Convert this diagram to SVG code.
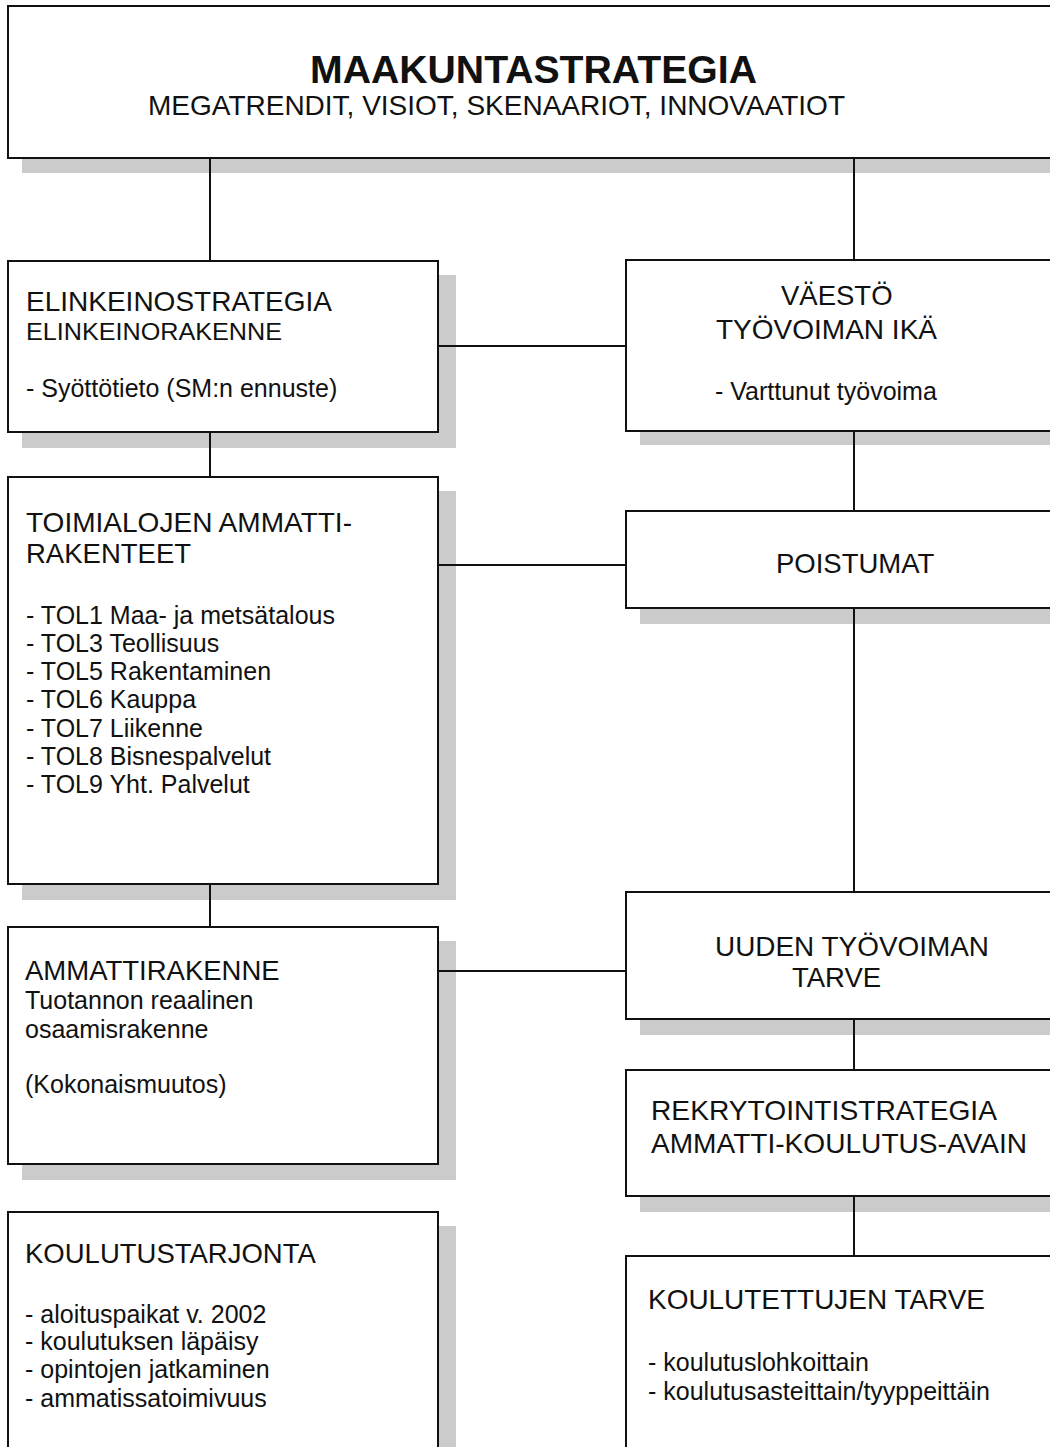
<svg xmlns="http://www.w3.org/2000/svg" width="1050" height="1447" viewBox="0 0 1050 1447">
  <style>
    .box { fill: #ffffff; stroke: #111111; stroke-width: 2; }
    .shadow { fill: #cbcbcb; stroke: none; }
    .conn { stroke: #111111; stroke-width: 2; fill: none; }
    text { font-family: "Liberation Sans", Arial, sans-serif; fill: #111111; }
    .h { font-size: 27.5px; }
    .l { font-size: 25px; }
    .title { font-size: 38.5px; font-weight: bold; }
    .sub { font-size: 27.4px; }
  </style>
  <rect width="1050" height="1447" fill="#ffffff"/>

  <g id="shadows">
    <rect class="shadow" x="22" y="20" width="1060" height="153"/>
    <rect class="shadow" x="22" y="275" width="434" height="173"/>
    <rect class="shadow" x="22" y="491" width="434" height="409"/>
    <rect class="shadow" x="22" y="941" width="434" height="239"/>
    <rect class="shadow" x="22" y="1226" width="434" height="262"/>
    <rect class="shadow" x="640" y="274" width="444" height="171"/>
    <rect class="shadow" x="640" y="525" width="444" height="99"/>
    <rect class="shadow" x="640" y="906" width="444" height="129"/>
    <rect class="shadow" x="640" y="1084" width="444" height="128"/>
    <rect class="shadow" x="640" y="1270" width="444" height="222"/>
  </g>

  <g id="connectors">
    <line class="conn" x1="210" y1="158" x2="210" y2="261"/>
    <line class="conn" x1="854" y1="158" x2="854" y2="260"/>
    <line class="conn" x1="438" y1="346" x2="626" y2="346"/>
    <line class="conn" x1="210" y1="432" x2="210" y2="477"/>
    <line class="conn" x1="854" y1="431" x2="854" y2="511"/>
    <line class="conn" x1="438" y1="565" x2="626" y2="565"/>
    <line class="conn" x1="854" y1="608" x2="854" y2="892"/>
    <line class="conn" x1="210" y1="884" x2="210" y2="927"/>
    <line class="conn" x1="438" y1="971" x2="626" y2="971"/>
    <line class="conn" x1="854" y1="1019" x2="854" y2="1070"/>
    <line class="conn" x1="854" y1="1196" x2="854" y2="1256"/>
  </g>

  <g id="maakuntastrategia">
    <rect class="box" x="8" y="6" width="1060" height="152"/>
    <text class="title" x="310" y="83" textLength="447" lengthAdjust="spacingAndGlyphs">MAAKUNTASTRATEGIA</text>
    <text class="sub" x="148" y="115" textLength="697" lengthAdjust="spacingAndGlyphs">MEGATRENDIT, VISIOT, SKENAARIOT, INNOVAATIOT</text>
  </g>

  <g id="elinkeinostrategia">
    <rect class="box" x="8" y="261" width="430" height="171"/>
    <text class="h" x="26" y="311" textLength="306" lengthAdjust="spacingAndGlyphs">ELINKEINOSTRATEGIA</text>
    <text x="26" y="340" style="font-size:24px" textLength="256" lengthAdjust="spacingAndGlyphs">ELINKEINORAKENNE</text>
    <text class="l" x="26" y="397">- Syöttötieto (SM:n ennuste)</text>
  </g>

  <g id="vaesto">
    <rect class="box" x="626" y="260" width="440" height="171"/>
    <text class="h" x="781" y="305">VÄESTÖ</text>
    <text class="h" x="716" y="339" textLength="221" lengthAdjust="spacingAndGlyphs">TYÖVOIMAN IKÄ</text>
    <text class="l" x="715" y="400">- Varttunut työvoima</text>
  </g>

  <g id="toimialojen">
    <rect class="box" x="8" y="477" width="430" height="407"/>
    <text class="h" x="26" y="532" textLength="326" lengthAdjust="spacingAndGlyphs">TOIMIALOJEN AMMATTI-</text>
    <text class="h" x="26" y="563">RAKENTEET</text>
    <text class="l" x="26" y="624">- TOL1 Maa- ja metsätalous</text>
    <text class="l" x="26" y="652">- TOL3 Teollisuus</text>
    <text class="l" x="26" y="680">- TOL5 Rakentaminen</text>
    <text class="l" x="26" y="708">- TOL6 Kauppa</text>
    <text class="l" x="26" y="737">- TOL7 Liikenne</text>
    <text class="l" x="26" y="765">- TOL8 Bisnespalvelut</text>
    <text class="l" x="26" y="793">- TOL9 Yht. Palvelut</text>
  </g>

  <g id="poistumat">
    <rect class="box" x="626" y="511" width="440" height="97"/>
    <text class="h" x="776" y="573">POISTUMAT</text>
  </g>

  <g id="uuden-tyovoiman-tarve">
    <rect class="box" x="626" y="892" width="440" height="127"/>
    <text class="h" x="715" y="956" textLength="274" lengthAdjust="spacingAndGlyphs">UUDEN TYÖVOIMAN</text>
    <text class="h" x="792" y="987">TARVE</text>
  </g>

  <g id="ammattirakenne">
    <rect class="box" x="8" y="927" width="430" height="237"/>
    <text class="h" x="25" y="980">AMMATTIRAKENNE</text>
    <text class="l" x="25" y="1009">Tuotannon reaalinen</text>
    <text class="l" x="25" y="1038">osaamisrakenne</text>
    <text class="l" x="25" y="1093">(Kokonaismuutos)</text>
  </g>

  <g id="rekrytointistrategia">
    <rect class="box" x="626" y="1070" width="440" height="126"/>
    <text class="h" x="651" y="1120" textLength="346" lengthAdjust="spacingAndGlyphs">REKRYTOINTISTRATEGIA</text>
    <text class="h" x="651" y="1153" textLength="376" lengthAdjust="spacingAndGlyphs">AMMATTI-KOULUTUS-AVAIN</text>
  </g>

  <g id="koulutustarjonta">
    <rect class="box" x="8" y="1212" width="430" height="260"/>
    <text class="h" x="25" y="1263">KOULUTUSTARJONTA</text>
    <text class="l" x="25" y="1323">- aloituspaikat v. 2002</text>
    <text class="l" x="25" y="1350">- koulutuksen läpäisy</text>
    <text class="l" x="25" y="1378">- opintojen jatkaminen</text>
    <text class="l" x="25" y="1407">- ammatissatoimivuus</text>
  </g>

  <g id="koulutettujen-tarve">
    <rect class="box" x="626" y="1256" width="440" height="220"/>
    <text class="h" x="648" y="1309" textLength="337" lengthAdjust="spacingAndGlyphs">KOULUTETTUJEN TARVE</text>
    <text class="l" x="648" y="1371">- koulutuslohkoittain</text>
    <text class="l" x="648" y="1400">- koulutusasteittain/tyyppeittäin</text>
  </g>
</svg>
